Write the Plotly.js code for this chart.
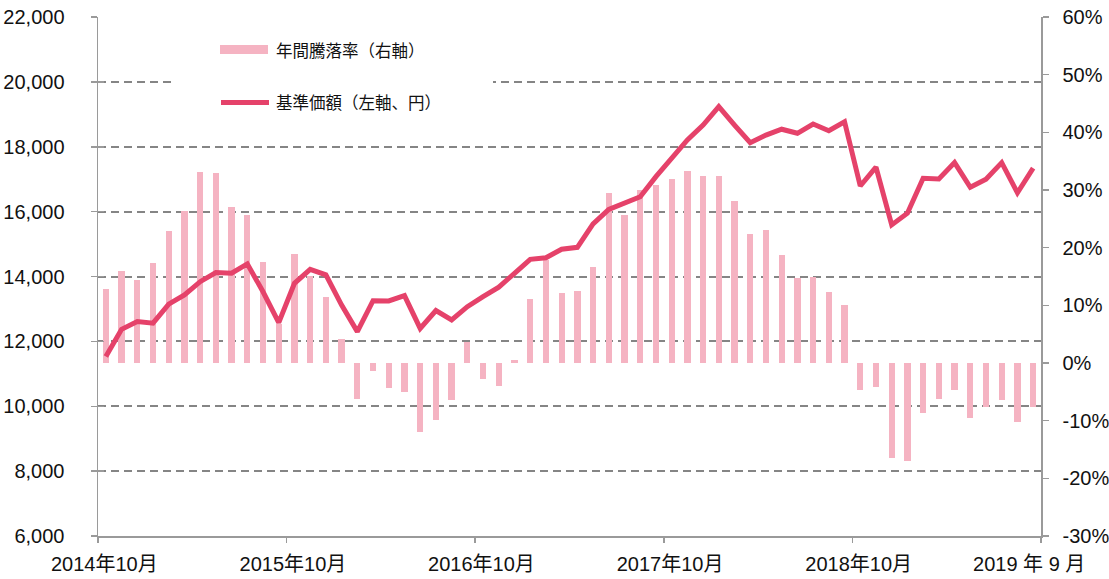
<!DOCTYPE html>
<html>
<head>
<meta charset="utf-8">
<script src="https://cdn.plot.ly/plotly-3.0.1.min.js"></script>
<style>
  html, body { margin: 0; padding: 0; background: #fff; }
  #chart { width: 1109px; height: 579px; }
</style>
</head>
<body>
<div id="chart"></div>
<script>
// ---- data ----
const months = [
  "2014-10","2014-11","2014-12","2015-01","2015-02","2015-03","2015-04","2015-05","2015-06","2015-07","2015-08","2015-09",
  "2015-10","2015-11","2015-12","2016-01","2016-02","2016-03","2016-04","2016-05","2016-06","2016-07","2016-08","2016-09",
  "2016-10","2016-11","2016-12","2017-01","2017-02","2017-03","2017-04","2017-05","2017-06","2017-07","2017-08","2017-09",
  "2017-10","2017-11","2017-12","2018-01","2018-02","2018-03","2018-04","2018-05","2018-06","2018-07","2018-08","2018-09",
  "2018-10","2018-11","2018-12","2019-01","2019-02","2019-03","2019-04","2019-05","2019-06","2019-07","2019-08","2019-09"
];
// 基準価額（左軸、円）
const nav = [
  11530, 12370, 12610, 12560, 13150, 13430, 13840, 14120, 14100, 14390,
  13530, 12580, 13790, 14220, 14050, 13120, 12300, 13255, 13245, 13410,
  12400, 12950, 12660, 13070, 13380, 13670, 14100, 14530, 14580, 14840,
  14900, 15620, 16070, 16280, 16460, 17080, 17640, 18210, 18670, 19240,
  18670, 18125, 18360, 18540, 18415, 18700, 18495, 18770, 16790, 17370,
  15590, 15950, 17030, 17006, 17510, 16750, 17000, 17510, 16580, 17340
];
// 年間騰落率（右軸、%）
const annualReturn = [
  12.8, 16.0, 14.4, 17.4, 22.9, 26.4, 33.2, 32.9, 27.0, 25.7,
  17.6, 6.8, 18.9, 15.1, 11.5, 4.2, -6.2, -1.3, -4.3, -5.0,
  -12.0, -9.8, -6.4, 3.7, -2.8, -4.0, 0.5, 11.1, 17.9, 12.1,
  12.4, 16.6, 29.5, 25.6, 30.0, 30.9, 31.9, 33.3, 32.4, 32.5,
  28.1, 22.3, 23.1, 18.7, 14.8, 15.0, 12.3, 10.0, -4.6, -4.2,
  -16.5, -17.0, -8.7, -6.3, -4.6, -9.6, -7.7, -6.4, -10.3, -7.7
];
const tickLabels = ["2014年10月","2015年10月","2016年10月","2017年10月","2018年10月","2019 年 9 月"];
const tickMonths = ["2014-10","2015-10","2016-10","2017-10","2018-10","2019-09"];
const rightTicks = [-30, -20, -10, 0, 10, 20, 30, 40, 50, 60];
const rightTickLabels = ["-30%","-20%","-10%","0%","10%","20%","30%","40%","50%","60%"];
const seriesNames = ["年間騰落率（右軸）", "基準価額（左軸、円）"];

// ---- styling ----
const W = 1109, H = 579;
const M = { l: 98, r: 68, t: 17, b: 43 };
const barColor = "#F5B3C2";
const lineColor = "#E5426A";
const axisColor = "#9a9a9a";
const gridColor = "#858585";
const fontFam = "'Liberation Sans', Arial, 'Noto Sans CJK JP', sans-serif";
const cjkFam = "'Noto Sans CJK JP', 'Liberation Sans', sans-serif";

const xIdx = months.map((m, i) => i);
const tickPos = tickMonths.map((m, k) => {
  const i = months.indexOf(m);
  return k === tickMonths.length - 1 ? i + 0.5 : i - 0.5;
});
const labelPos = tickPos.map((p, k) => k === tickPos.length - 1 ? p - 0.75 : p + 0.4);

const px2x = px => (px - M.l) / (W - M.l - M.r);
const px2y = py => (H - M.b - py) / (H - M.t - M.b);

const traces = [
  {
    type: "bar", x: xIdx, y: annualReturn, name: seriesNames[0],
    marker: { color: barColor, line: { width: 0 } }, width: 0.4,
    xaxis: "x", yaxis: "y", showlegend: false, hoverinfo: "skip"
  },
  {
    type: "scatter", mode: "lines", x: xIdx, y: nav, name: seriesNames[1],
    line: { color: lineColor, width: 5, shape: "linear" },
    xaxis: "x", yaxis: "y2", showlegend: false, hoverinfo: "skip"
  },
  { type: "scatter", x: [0], y: [10000], xaxis: "x2", yaxis: "y3",
    mode: "markers", marker: { opacity: 0 }, showlegend: false, hoverinfo: "skip" }
];

const layout = {
  width: W, height: H,
  margin: M,
  paper_bgcolor: "#fff", plot_bgcolor: "rgba(0,0,0,0)",
  font: { family: fontFam, size: 20, color: "#111" },
  showlegend: false,
  bargap: 0,
  xaxis: {
    range: [-0.5, months.length - 0.5], fixedrange: true,
    tickmode: "array", tickvals: labelPos, ticktext: tickLabels,
    ticks: "", showline: true, linecolor: axisColor, linewidth: 1.5,
    showgrid: false, zeroline: false,
    tickfont: { family: fontFam, size: 20, color: "#111" },
    ticklabelstandoff: 9
  },
  xaxis2: {
    overlaying: "x", range: [-0.5, months.length - 0.5], fixedrange: true,
    tickmode: "array", tickvals: tickPos, showticklabels: false,
    ticks: "outside", ticklen: 6, tickwidth: 1.5, tickcolor: axisColor,
    showline: false, showgrid: false, zeroline: false, side: "bottom"
  },
  yaxis: {
    side: "right", range: [-30, 60], fixedrange: true,
    tickmode: "array", tickvals: rightTicks, ticktext: rightTickLabels,
    showgrid: false, zeroline: false,
    showline: true, linecolor: axisColor, linewidth: 1.5,
    ticks: "outside", ticklen: 6, tickwidth: 1.5, tickcolor: axisColor,
    tickfont: { family: fontFam, size: 20, color: "#111" },
    ticklabelstandoff: 10
  },
  yaxis2: {
    overlaying: "y", side: "left", range: [6000, 22000], dtick: 2000, tick0: 6000,
    fixedrange: true, tickformat: ",d",
    showgrid: true, gridcolor: gridColor, gridwidth: 2, griddash: "8px,5px",
    zeroline: false, showline: true, linecolor: axisColor, linewidth: 1.5,
    ticks: "outside", ticklen: 6, tickwidth: 1.5, tickcolor: axisColor,
    tickfont: { family: fontFam, size: 20, color: "#111" },
    ticklabelstandoff: 22
  },
  yaxis3: {
    overlaying: "y", side: "left", range: [6000, 22000], dtick: 2000, tick0: 6000,
    fixedrange: true, showticklabels: false, showgrid: false, zeroline: false,
    showline: false, ticks: "inside", ticklen: 6, tickwidth: 1.5, tickcolor: axisColor
  },
  shapes: [
    { type: "rect", xref: "paper", yref: "paper", layer: "above",
      x0: px2x(175), x1: px2x(493), y0: px2y(125), y1: px2y(30),
      fillcolor: "#fff", line: { width: 0 } },
    { type: "rect", xref: "paper", yref: "paper", layer: "above",
      x0: px2x(220), x1: px2x(268), y0: px2y(54), y1: px2y(45),
      fillcolor: barColor, line: { width: 0 } },
    { type: "line", xref: "paper", yref: "paper", layer: "above",
      x0: px2x(221), x1: px2x(269), y0: px2y(102.5), y1: px2y(102.5),
      line: { color: lineColor, width: 5, cap: "round" } }
  ],
  annotations: [
    { xref: "paper", yref: "paper", x: px2x(274), y: px2y(50), xanchor: "left", yanchor: "middle",
      text: seriesNames[0], showarrow: false, font: { family: cjkFam, size: 16.5, color: "#111" } },
    { xref: "paper", yref: "paper", x: px2x(274), y: px2y(102), xanchor: "left", yanchor: "middle",
      text: seriesNames[1], showarrow: false, font: { family: cjkFam, size: 16.5, color: "#111" } }
  ]
};

Plotly.newPlot("chart", traces, layout, { displayModeBar: false, staticPlot: true });
</script>
</body>
</html>
